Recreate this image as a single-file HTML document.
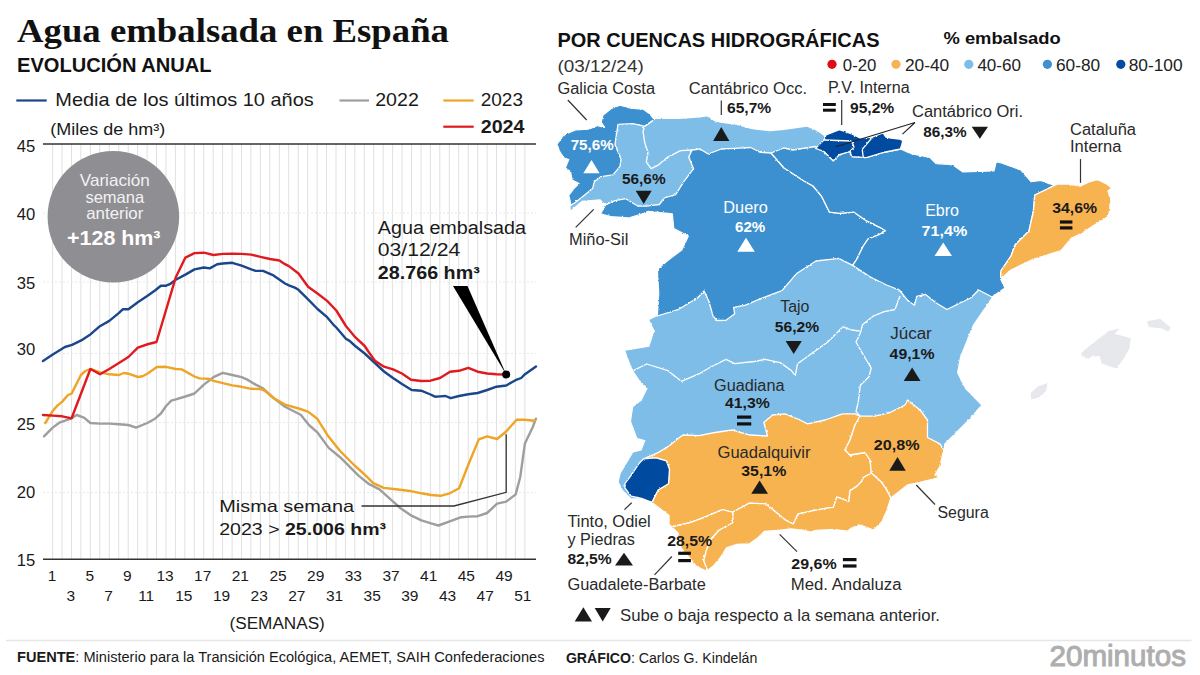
<!DOCTYPE html><html><head><meta charset="utf-8"><title>Agua embalsada en España</title><style>html,body{margin:0;padding:0;background:#fff;width:1200px;height:675px;overflow:hidden}svg{display:block}</style></head><body>
<svg width="1200" height="675" viewBox="0 0 1200 675" font-family='"Liberation Sans", sans-serif'>
<rect width="1200" height="675" fill="#fff"/>
<text x="17" y="42" font-size="34.2" font-weight="bold" fill="#111" textLength="432" lengthAdjust="spacingAndGlyphs" font-family='"Liberation Serif", serif'>Agua embalsada en España</text>
<text x="17" y="71.6" font-size="19.8" font-weight="bold" fill="#111" textLength="194.6" lengthAdjust="spacingAndGlyphs">EVOLUCIÓN ANUAL</text>
<line x1="16.3" y1="100.5" x2="46.7" y2="100.5" stroke="#1a468c" stroke-width="2.2"/>
<text x="55.3" y="106.1" font-size="18.4" fill="#1a1a1a" textLength="258.5" lengthAdjust="spacingAndGlyphs">Media de los últimos 10 años</text>
<line x1="339.5" y1="100.5" x2="369" y2="100.5" stroke="#9e9e9e" stroke-width="2.2"/>
<text x="375.2" y="106.1" font-size="18.4" fill="#1a1a1a" textLength="43.6" lengthAdjust="spacingAndGlyphs">2022</text>
<line x1="443.3" y1="100.5" x2="473.7" y2="100.5" stroke="#eea526" stroke-width="2.2"/>
<text x="480.7" y="106.1" font-size="18.4" fill="#1a1a1a" textLength="42.3" lengthAdjust="spacingAndGlyphs">2023</text>
<line x1="443.3" y1="126.7" x2="473.7" y2="126.7" stroke="#e01b1f" stroke-width="2.2"/>
<text x="480.7" y="132.5" font-size="18.4" font-weight="bold" fill="#1a1a1a" textLength="43.8" lengthAdjust="spacingAndGlyphs">2024</text>
<text x="50.2" y="134.8" font-size="16.2" fill="#1a1a1a" textLength="115" lengthAdjust="spacingAndGlyphs">(Miles de hm³)</text>
<path d="M52.6,144V559M62.0,144V559M71.5,144V559M80.9,144V559M90.4,144V559M99.8,144V559M109.3,144V559M118.7,144V559M128.2,144V559M137.6,144V559M147.1,144V559M156.5,144V559M165.9,144V559M175.4,144V559M184.8,144V559M194.3,144V559M203.7,144V559M213.2,144V559M222.6,144V559M232.1,144V559M241.5,144V559M250.9,144V559M260.4,144V559M269.8,144V559M279.3,144V559M288.7,144V559M298.2,144V559M307.6,144V559M317.1,144V559M326.5,144V559M336.0,144V559M345.4,144V559M354.8,144V559M364.3,144V559M373.7,144V559M383.2,144V559M392.6,144V559M402.1,144V559M411.5,144V559M421.0,144V559M430.4,144V559M439.8,144V559M449.3,144V559M458.7,144V559M468.2,144V559M477.6,144V559M487.1,144V559M496.5,144V559M506.0,144V559M515.4,144V559M524.9,144V559" stroke="#e0e0e0" stroke-width="1" fill="none"/>
<line x1="43" y1="213.0" x2="536" y2="213.0" stroke="#e8e8e8" stroke-width="1" stroke-dasharray="2,2"/>
<line x1="43" y1="282.0" x2="536" y2="282.0" stroke="#e8e8e8" stroke-width="1" stroke-dasharray="2,2"/>
<line x1="43" y1="353.5" x2="536" y2="353.5" stroke="#e8e8e8" stroke-width="1" stroke-dasharray="2,2"/>
<line x1="43" y1="422.5" x2="536" y2="422.5" stroke="#e8e8e8" stroke-width="1" stroke-dasharray="2,2"/>
<line x1="43" y1="492.6" x2="536" y2="492.6" stroke="#e8e8e8" stroke-width="1" stroke-dasharray="2,2"/>
<line x1="43" y1="144" x2="536" y2="144" stroke="#333" stroke-width="1.6"/>
<line x1="43" y1="559.3" x2="536" y2="559.3" stroke="#333" stroke-width="1.6"/>
<text x="35.3" y="151.7" font-size="16.8" fill="#1a1a1a" textLength="18.5" lengthAdjust="spacingAndGlyphs" text-anchor="end">45</text>
<text x="35.3" y="219.6" font-size="16.8" fill="#1a1a1a" textLength="18.5" lengthAdjust="spacingAndGlyphs" text-anchor="end">40</text>
<text x="35.3" y="289.0" font-size="16.8" fill="#1a1a1a" textLength="18.5" lengthAdjust="spacingAndGlyphs" text-anchor="end">35</text>
<text x="35.3" y="355.0" font-size="16.8" fill="#1a1a1a" textLength="18.5" lengthAdjust="spacingAndGlyphs" text-anchor="end">30</text>
<text x="35.3" y="429.8" font-size="16.8" fill="#1a1a1a" textLength="18.5" lengthAdjust="spacingAndGlyphs" text-anchor="end">25</text>
<text x="35.3" y="498.2" font-size="16.8" fill="#1a1a1a" textLength="18.5" lengthAdjust="spacingAndGlyphs" text-anchor="end">20</text>
<text x="35.3" y="565.6" font-size="16.8" fill="#1a1a1a" textLength="18.5" lengthAdjust="spacingAndGlyphs" text-anchor="end">15</text>
<text x="52.0" y="580.75" font-size="15.5" fill="#1a1a1a" text-anchor="middle">1</text>
<text x="70.8" y="600.75" font-size="15.5" fill="#1a1a1a" text-anchor="middle">3</text>
<text x="89.7" y="580.75" font-size="15.5" fill="#1a1a1a" text-anchor="middle">5</text>
<text x="108.5" y="600.75" font-size="15.5" fill="#1a1a1a" text-anchor="middle">7</text>
<text x="127.3" y="580.75" font-size="15.5" fill="#1a1a1a" text-anchor="middle">9</text>
<text x="146.2" y="600.75" font-size="15.5" fill="#1a1a1a" text-anchor="middle">11</text>
<text x="165.0" y="580.75" font-size="15.5" fill="#1a1a1a" text-anchor="middle">13</text>
<text x="183.8" y="600.75" font-size="15.5" fill="#1a1a1a" text-anchor="middle">15</text>
<text x="202.7" y="580.75" font-size="15.5" fill="#1a1a1a" text-anchor="middle">17</text>
<text x="221.5" y="600.75" font-size="15.5" fill="#1a1a1a" text-anchor="middle">19</text>
<text x="240.3" y="580.75" font-size="15.5" fill="#1a1a1a" text-anchor="middle">21</text>
<text x="259.2" y="600.75" font-size="15.5" fill="#1a1a1a" text-anchor="middle">23</text>
<text x="278.0" y="580.75" font-size="15.5" fill="#1a1a1a" text-anchor="middle">25</text>
<text x="296.8" y="600.75" font-size="15.5" fill="#1a1a1a" text-anchor="middle">27</text>
<text x="315.7" y="580.75" font-size="15.5" fill="#1a1a1a" text-anchor="middle">29</text>
<text x="334.5" y="600.75" font-size="15.5" fill="#1a1a1a" text-anchor="middle">31</text>
<text x="353.3" y="580.75" font-size="15.5" fill="#1a1a1a" text-anchor="middle">33</text>
<text x="372.2" y="600.75" font-size="15.5" fill="#1a1a1a" text-anchor="middle">35</text>
<text x="391.0" y="580.75" font-size="15.5" fill="#1a1a1a" text-anchor="middle">37</text>
<text x="409.8" y="600.75" font-size="15.5" fill="#1a1a1a" text-anchor="middle">39</text>
<text x="428.7" y="580.75" font-size="15.5" fill="#1a1a1a" text-anchor="middle">41</text>
<text x="447.5" y="600.75" font-size="15.5" fill="#1a1a1a" text-anchor="middle">43</text>
<text x="466.3" y="580.75" font-size="15.5" fill="#1a1a1a" text-anchor="middle">45</text>
<text x="485.2" y="600.75" font-size="15.5" fill="#1a1a1a" text-anchor="middle">47</text>
<text x="504.0" y="580.75" font-size="15.5" fill="#1a1a1a" text-anchor="middle">49</text>
<text x="522.8" y="600.75" font-size="15.5" fill="#1a1a1a" text-anchor="middle">51</text>
<text x="229.5" y="628.75" font-size="16" fill="#1a1a1a" textLength="95.3" lengthAdjust="spacingAndGlyphs">(SEMANAS)</text>
<circle cx="113.4" cy="216.7" r="65.8" fill="#8f8e92"/>
<text x="114.8" y="185.8" font-size="16.5" fill="#f2f2f2" textLength="70" lengthAdjust="spacingAndGlyphs" text-anchor="middle">Variación</text>
<text x="114.8" y="203" font-size="16.5" fill="#f2f2f2" textLength="58.8" lengthAdjust="spacingAndGlyphs" text-anchor="middle">semana</text>
<text x="114.8" y="219.1" font-size="16.5" fill="#f2f2f2" textLength="57.1" lengthAdjust="spacingAndGlyphs" text-anchor="middle">anterior</text>
<text x="113.8" y="244.8" font-size="21" font-weight="bold" fill="#ffffff" textLength="93.4" lengthAdjust="spacingAndGlyphs" text-anchor="middle">+128 hm³</text>
<path d="M44.0,436.3L52.7,427.6L60.0,422.3L71.6,418.3L76.6,415.0L84.0,417.6L90.4,423.0L100.0,423.6L109.3,423.6L118.9,424.3L128.4,425.0L136.0,427.6L147.3,423.0L155.0,418.7L160.9,413.5L166.1,406.0L171.3,400.6L175.7,399.4L185.4,396.5L194.5,393.5L203.9,384.6L213.5,377.2L222.8,372.8L232.3,375.0L241.6,377.2L246.8,379.4L255.7,384.6L263.0,388.3L273.5,398.0L285.0,406.8L300.7,414.7L309.0,425.0L317.3,432.3L328.7,447.9L340.1,457.2L358.8,475.9L369.2,484.2L379.5,489.3L392.0,500.7L400.3,508.0L410.4,515.1L421.4,520.3L431.1,523.4L438.4,525.5L449.8,521.3L461.2,517.2L468.5,516.6L477.8,516.2L487.1,513.0L497.1,503.7L506.2,501.6L515.7,494.4L520.3,476.7L524.9,443.6L532.8,427.0L535.9,418.7" stroke="#9e9e9e" stroke-width="2.4" fill="none" stroke-linejoin="round" stroke-linecap="round"/>
<path d="M45.3,423.0L52.7,411.0L57.3,405.6L62.3,401.6L68.0,395.0L71.6,393.6L80.9,375.0L85.3,371.0L90.4,369.0L100.0,372.3L109.3,374.3L118.9,375.0L124.0,373.0L128.4,373.7L138.0,377.0L142.6,376.3L147.3,373.7L156.9,367.0L166.1,366.8L175.7,369.0L181.7,369.4L194.5,376.5L199.4,378.4L208.3,378.7L213.5,380.9L222.8,383.1L232.3,385.4L241.6,386.8L251.2,388.8L260.4,389.0L264.6,390.5L273.5,398.0L285.0,404.6L298.7,408.5L308.0,411.6L317.3,418.8L327.7,435.4L340.1,451.0L354.6,465.5L365.0,474.8L373.3,483.1L383.7,487.9L396.1,489.3L412.0,491.3L421.4,493.3L431.1,495.0L440.4,495.8L449.8,493.3L459.1,488.2L468.5,464.3L478.8,439.4L487.1,436.3L497.1,439.0L506.2,431.5L516.6,419.7L524.9,419.7L534.8,420.7" stroke="#eea526" stroke-width="2.4" fill="none" stroke-linejoin="round" stroke-linecap="round"/>
<path d="M43.0,361.0L52.8,354.5L64.9,347.0L72.0,344.9L81.2,340.4L90.7,334.2L99.9,326.2L109.3,320.9L119.0,312.9L122.7,309.3L128.4,309.3L137.8,302.2L147.2,296.0L155.0,290.5L160.9,285.7L166.1,285.7L169.8,284.2L175.7,279.8L185.4,274.6L194.5,269.4L203.9,267.5L209.8,268.4L217.2,264.2L222.8,263.5L232.3,262.8L241.6,265.7L251.2,269.4L255.7,270.9L263.0,270.9L273.5,275.4L285.0,283.5L288.9,285.4L294.8,287.6L298.5,289.8L308.1,299.4L317.5,309.0L327.1,317.2L333.3,324.6L336.3,327.5L345.9,338.7L349.6,340.9L355.2,346.0L364.7,353.5L369.0,357.5L384.0,371.5L393.0,378.0L402.0,384.0L411.7,390.0L421.2,390.7L430.5,394.5L435.0,396.7L440.0,396.4L445.5,396.0L450.7,398.2L459.0,396.0L468.3,394.2L477.7,393.0L487.2,390.0L496.5,386.7L506.2,385.5L515.5,380.2L521.2,378.0L525.0,374.2L536.0,366.5" stroke="#1a468c" stroke-width="2.4" fill="none" stroke-linejoin="round" stroke-linecap="round"/>
<path d="M43.0,415.0L52.7,415.6L62.3,416.3L71.6,418.3L90.4,369.0L100.0,374.3L109.3,369.0L118.9,363.0L128.4,357.0L137.8,347.6L148.4,344.0L156.5,342.0L175.7,277.6L185.4,257.6L194.5,253.1L203.9,252.7L213.5,255.0L222.8,253.9L232.3,253.6L241.6,253.9L251.2,254.6L260.4,256.8L270.0,259.0L279.4,260.5L285.0,264.2L288.9,266.1L298.5,273.5L308.1,286.8L317.5,293.5L327.1,300.9L336.3,310.5L345.9,326.0L355.2,337.2L364.7,346.0L369.0,352.5L375.0,360.7L384.0,366.7L393.0,369.3L402.0,373.5L411.0,379.8L421.2,381.0L430.5,380.7L440.0,378.0L450.0,371.7L459.0,370.8L468.3,367.8L477.7,371.7L487.2,373.5L496.5,374.2L506.2,374.5" stroke="#e01b1f" stroke-width="2.4" fill="none" stroke-linejoin="round" stroke-linecap="round"/>
<polygon points="453,286 467.5,286 506.2,374.5" fill="#000"/>
<circle cx="506.2" cy="374.5" r="4" fill="#000"/>
<text x="377.8" y="234.2" font-size="18" fill="#1a1a1a" textLength="148.2" lengthAdjust="spacingAndGlyphs">Agua embalsada</text>
<text x="377.8" y="255.5" font-size="18" fill="#1a1a1a" textLength="82.5" lengthAdjust="spacingAndGlyphs">03/12/24</text>
<text x="377.8" y="279.4" font-size="18" font-weight="bold" fill="#1a1a1a" textLength="102" lengthAdjust="spacingAndGlyphs">28.766 hm³</text>
<polyline points="361.5,506 454,506 506.2,492.3 506.2,434.2" stroke="#333" stroke-width="1.3" fill="none"/>
<text x="219.25" y="511.5" font-size="17" fill="#1a1a1a" textLength="134.8" lengthAdjust="spacingAndGlyphs">Misma semana</text>
<text x="219.25" y="535" font-size="17" fill="#1a1a1a" textLength="166.8" lengthAdjust="spacingAndGlyphs">2023 &gt; <tspan font-weight="bold">25.006 hm³</tspan></text>
<defs><filter id="rough" x="-2%" y="-2%" width="104%" height="104%"><feTurbulence type="fractalNoise" baseFrequency="0.45" numOctaves="2" seed="3" result="n"/><feDisplacementMap in="SourceGraphic" in2="n" scale="2.2" xChannelSelector="R" yChannelSelector="G"/></filter></defs>
<g filter="url(#rough)">
<polygon points="1081.1,353.0 1090.1,345.6 1098.2,339.1 1108.8,331.0 1119.4,328.5 1114.5,334.2 1119.4,335.0 1130.8,338.3 1129.2,348.9 1122.7,360.3 1116.2,368.5 1101.5,363.6 1099.9,356.2 1091.7,356.2 1088.5,358.7 1081.9,356.2" fill="#e7e8eb"/>
<polygon points="1147.1,321.2 1160.2,318.7 1170.8,327.7 1168.3,331.8 1161.8,328.5 1148.8,326.9" fill="#e7e8eb"/>
<polygon points="1030.6,392.9 1037.9,386.4 1047.7,383.1 1046.1,391.3 1037.9,397.8 1031.4,399.4" fill="#e7e8eb"/>
<polygon points="556.8,144.3 563.6,134.9 575.5,129.8 589.2,129.0 597.7,125.5 604.5,127.3 601.1,122.1 602.8,115.3 611.3,108.5 620.0,105.1 630.0,108.0 643.0,109.0 650.0,114.0 654.0,119.0 679.0,119.0 700.0,117.5 707.0,116.5 715.0,121.4 722.0,123.0 736.0,124.7 753.0,129.6 770.0,131.2 784.0,130.0 807.0,126.7 815.0,130.0 820.0,133.0 824.0,136.0 826.0,135.0 839.4,129.7 851.9,133.9 860.0,138.0 872.6,137.0 883.0,132.8 886.0,137.0 891.0,138.0 899.6,139.0 902.8,140.7 900.7,149.0 911.0,153.7 929.8,157.3 936.0,163.6 952.6,164.6 963.0,171.9 994.0,170.8 996.2,161.5 1000.0,162.5 1021.0,170.0 1031.0,181.7 1041.0,180.4 1053.7,185.4 1057.0,184.2 1068.5,184.2 1080.5,186.1 1087.8,182.3 1097.4,179.4 1107.0,184.2 1111.9,188.0 1108.0,191.0 1111.0,200.6 1109.0,214.0 1106.0,218.0 1093.6,225.6 1082.0,233.3 1071.7,238.0 1061.0,250.6 1032.6,259.5 1011.0,270.0 1000.7,279.0 1005.0,288.0 992.0,297.0 973.0,324.7 960.0,356.7 957.0,372.7 965.0,388.7 981.0,405.0 970.0,418.0 960.0,428.0 944.0,444.0 943.8,450.0 940.0,466.2 935.0,475.0 940.0,477.5 920.0,482.5 907.5,485.0 890.9,498.0 886.7,511.0 882.0,521.7 873.7,530.0 860.6,525.2 852.3,527.6 847.6,531.1 836.9,530.0 830.0,529.6 815.9,530.3 810.9,532.1 803.3,530.3 790.7,529.0 778.1,530.3 764.3,531.5 758.0,537.8 749.2,544.1 737.8,544.1 726.5,547.9 720.2,558.0 713.9,565.5 707.6,570.5 705.0,570.5 696.0,566.0 681.0,548.0 678.0,533.0 669.0,524.5 669.0,515.6 651.9,502.4 641.5,498.3 631.1,498.3 627.0,494.1 622.8,490.0 618.7,481.7 620.7,473.4 627.0,463.0 633.2,452.6 641.5,450.5 645.6,440.2 637.3,438.1 631.1,421.5 633.2,407.0 641.5,400.7 647.7,388.3 639.4,380.0 633.3,370.7 630.7,365.3 625.3,350.7 649.3,346.7 654.7,330.7 649.3,320.0 657.3,316.0 658.7,293.3 657.3,269.3 668.3,260.0 681.7,250.0 688.3,236.0 673.7,228.7 672.3,214.0 648.3,211.3 641.7,214.0 628.3,218.0 611.0,216.7 600.3,214.0 605.7,204.7 600.3,199.3 581.7,200.7 571.0,210.0 570.4,205.6 570.4,202.2 568.7,195.4 573.8,188.6 579.0,183.5 572.1,180.1 570.4,171.5 565.3,168.1 568.7,159.6 563.6,157.9 559.4,151.1" fill="#7ebde8"/>
<polygon points="654.4,119.5 644.7,126.3 633.0,123.7 618.0,124.4 615.0,144.4 621.0,159.3 620.0,166.4 613.0,174.9 601.1,176.6 594.3,181.8 592.6,188.6 584.1,195.4 575.5,202.2 570.4,205.6 570.4,202.2 568.7,195.4 573.8,188.6 579.0,183.5 572.1,180.1 570.4,171.5 565.3,168.1 568.7,159.6 563.6,157.9 559.4,151.1 556.8,144.3 563.6,134.9 575.5,129.8 589.2,129.0 597.7,125.5 604.5,127.3 601.1,122.1 602.8,115.3 611.3,108.5 620.0,105.1 630.0,108.0 643.0,109.0 650.0,114.0" fill="#3e90cf" stroke="#fff" stroke-width="1.3" stroke-linejoin="round"/>
<polygon points="600.3,214.0 605.7,204.7 615.0,200.7 625.7,198.7 637.7,206.0 646.3,206.2 659.3,204.5 664.2,198.0 675.6,194.7 683.8,181.7 693.6,168.7 688.7,157.3 692.0,150.0 700.0,149.0 708.2,154.0 721.3,149.0 734.3,148.3 750.6,147.5 760.4,152.4 771.0,153.0 784.0,168.0 804.0,181.0 813.0,186.0 821.3,195.8 829.5,212.2 840.0,213.3 854.0,212.2 865.6,220.3 879.7,227.3 885.5,230.8 879.7,234.3 868.0,239.0 863.3,246.0 856.3,260.0 852.7,265.4 838.6,258.3 816.0,261.0 796.3,273.8 782.0,290.7 760.7,298.7 745.5,305.2 733.6,307.3 734.7,313.8 726.0,320.3 717.0,320.5 713.0,316.0 708.7,300.8 704.0,291.0 697.7,297.7 678.7,309.3 657.3,316.0 658.7,293.3 657.3,269.3 668.3,260.0 681.7,250.0 688.3,236.0 673.7,228.7 672.3,214.0 648.3,211.3 641.7,214.0 628.3,218.0 611.0,216.7" fill="#3e90cf" stroke="#fff" stroke-width="1.3" stroke-linejoin="round"/>
<polygon points="771.0,153.0 784.0,148.0 793.0,150.0 815.6,146.5 823.9,151.5 833.2,160.8 839.4,154.6 849.8,151.5 851.9,156.7 866.4,157.7 883.0,152.5 900.7,149.0 911.0,153.7 929.8,157.3 936.0,163.6 952.6,164.6 963.0,171.9 994.0,170.8 996.2,161.5 1000.0,162.5 1021.0,170.0 1031.0,181.7 1041.0,180.4 1053.7,185.4 1057.0,184.2 1045.4,190.0 1034.8,195.0 1033.5,210.6 1029.0,231.0 1015.0,245.0 1011.0,256.0 1000.8,271.0 1000.7,279.0 1005.0,288.0 992.0,297.0 978.7,290.0 970.7,298.0 960.0,303.0 947.0,309.5 936.2,303.0 925.3,294.3 916.7,296.5 914.5,305.2 908.0,300.8 899.3,290.0 886.5,285.0 869.6,276.6 852.7,265.4 856.3,260.0 863.3,246.0 868.0,239.0 879.7,234.3 885.5,230.8 879.7,227.3 865.6,220.3 854.0,212.2 840.0,213.3 829.5,212.2 821.3,195.8 813.0,186.0 804.0,181.0 784.0,168.0" fill="#3e90cf" stroke="#fff" stroke-width="1.3" stroke-linejoin="round"/>
<polygon points="815.6,148.4 823.9,140.0 826.0,135.0 839.4,129.7 851.9,133.9 860.0,138.0 872.6,137.0 883.0,132.8 886.0,137.0 891.0,138.0 899.6,139.0 902.8,140.7 900.7,149.0 883.0,152.5 866.4,157.7 851.9,156.7 849.8,151.5 839.4,154.6 833.2,160.8 823.9,151.5" fill="#054b9f" stroke="#fff" stroke-width="1.3" stroke-linejoin="round"/>
<polygon points="1057.0,184.2 1068.5,184.2 1080.5,186.1 1087.8,182.3 1097.4,179.4 1107.0,184.2 1111.9,188.0 1108.0,191.0 1111.0,200.6 1109.0,214.0 1106.0,218.0 1093.6,225.6 1082.0,233.3 1071.7,238.0 1061.0,250.6 1032.6,259.5 1011.0,270.0 1000.7,279.0 1000.8,271.0 1011.0,256.0 1015.0,245.0 1029.0,231.0 1033.5,210.6 1034.8,195.0 1045.4,190.0" fill="#f8b351" stroke="#fff" stroke-width="1.3" stroke-linejoin="round"/>
<polygon points="643.6,458.8 658.1,452.6 668.5,446.4 678.8,438.1 683.0,435.0 699.0,435.6 715.0,432.5 732.5,430.0 750.0,435.0 767.5,436.0 763.8,422.5 772.5,415.0 785.0,413.8 800.0,420.0 807.5,423.8 825.0,420.0 842.5,413.8 855.0,413.8 860.0,416.2 855.0,425.0 850.0,440.0 845.0,450.0 850.0,455.0 865.0,452.5 870.1,460.0 871.3,473.0 863.0,477.8 861.8,481.3 857.1,486.1 850.0,490.8 848.8,501.5 836.9,496.8 833.4,507.4 830.0,507.6 815.9,510.1 798.3,513.9 793.2,524.0 785.7,520.2 778.1,513.9 771.8,508.8 765.5,503.8 749.2,503.2 733.0,512.0 729.0,511.4 722.7,509.5 715.2,512.6 703.8,517.7 690.0,522.7 669.0,527.5 669.0,524.5 669.0,515.6 651.9,502.4 658.1,490.0 668.5,483.7 669.5,469.2 666.4,460.9 656.0,457.8" fill="#f8b351" stroke="#fff" stroke-width="1.3" stroke-linejoin="round"/>
<polygon points="669.0,527.5 690.0,522.7 703.8,517.7 715.2,512.6 722.7,509.5 729.0,511.4 733.0,512.0 732.8,522.7 719.0,530.3 710.1,540.3 706.4,550.4 703.8,560.5 707.6,570.5 705.0,570.5 696.0,566.0 681.0,548.0 678.0,533.0 669.0,524.5" fill="#f8b351" stroke="#fff" stroke-width="1.3" stroke-linejoin="round"/>
<polygon points="733.0,512.0 749.2,503.2 765.5,503.8 771.8,508.8 778.1,513.9 785.7,520.2 793.2,524.0 798.3,513.9 815.9,510.1 830.0,507.6 833.4,507.4 836.9,496.8 848.8,501.5 850.0,490.8 857.1,486.1 861.8,481.3 863.0,477.8 871.3,473.0 880.8,481.3 886.7,489.6 890.9,498.0 886.7,511.0 882.0,521.7 873.7,530.0 860.6,525.2 852.3,527.6 847.6,531.1 836.9,530.0 830.0,529.6 815.9,530.3 810.9,532.1 803.3,530.3 790.7,529.0 778.1,530.3 764.3,531.5 758.0,537.8 749.2,544.1 737.8,544.1 726.5,547.9 720.2,558.0 713.9,565.5 707.6,570.5 703.8,560.5 706.4,550.4 710.1,540.3 719.0,530.3 732.8,522.7" fill="#f8b351" stroke="#fff" stroke-width="1.3" stroke-linejoin="round"/>
<polygon points="860.0,416.2 875.0,416.2 890.0,412.5 905.0,405.0 907.5,400.0 920.0,410.0 927.5,420.0 927.5,437.5 940.0,443.8 943.8,450.0 940.0,466.2 935.0,475.0 940.0,477.5 920.0,482.5 907.5,485.0 890.9,498.0 886.7,489.6 880.8,481.3 871.3,473.0 870.1,460.0 865.0,452.5 850.0,455.0 845.0,450.0 850.0,440.0 855.0,425.0" fill="#f8b351" stroke="#fff" stroke-width="1.3" stroke-linejoin="round"/>
<polygon points="656.0,457.8 666.4,460.9 669.5,469.2 668.5,483.7 658.1,490.0 651.9,502.4 641.5,498.3 631.1,496.2 624.9,487.9 624.9,483.7 631.1,475.4 639.4,463.0 643.6,458.8" fill="#054b9f" stroke="#fff" stroke-width="1.3" stroke-linejoin="round"/>
<polyline points="654.4,119.5 644.7,126.3 643.0,131.2 644.7,142.6 648.0,152.4 646.3,162.2 651.2,168.7 657.7,165.4 667.5,157.3 680.5,150.7 692.0,150.0" fill="none" stroke="#fff" stroke-width="1.3" stroke-linejoin="round"/>
<polyline points="633.3,370.7 646.7,364.0 668.0,370.7 681.3,381.3 700.0,373.3 710.8,367.0 726.0,359.3 734.7,363.7 754.2,361.5 765.0,359.3 780.2,362.6 791.0,370.2 795.3,375.6 797.5,363.7 812.7,352.8 827.8,342.0 843.0,326.8 851.7,330.0 860.3,331.2" fill="none" stroke="#fff" stroke-width="1.3" stroke-linejoin="round"/>
<polyline points="900.0,296.0 895.0,309.5 884.2,311.7 873.3,316.0 862.5,324.7 860.3,333.3" fill="none" stroke="#fff" stroke-width="1.3" stroke-linejoin="round"/>
<polyline points="860.3,333.3 856.0,342.0 864.7,357.2 871.2,368.0 869.0,376.7 860.3,385.3 858.2,402.7 856.0,411.3 860.0,416.2" fill="none" stroke="#fff" stroke-width="1.3" stroke-linejoin="round"/>
<polyline points="823.9,140.0 851.9,141.0 854.0,147.3 849.8,151.5" fill="none" stroke="#fff" stroke-width="1.3" stroke-linejoin="round"/>
<polyline points="872.6,137.0 862.2,149.4 863.3,157.7" fill="none" stroke="#fff" stroke-width="1.3" stroke-linejoin="round"/>
</g>
<text x="557.5" y="47" font-size="19.9" font-weight="bold" fill="#111" textLength="322" lengthAdjust="spacingAndGlyphs">POR CUENCAS HIDROGRÁFICAS</text>
<text x="943.5" y="43.75" font-size="17.4" font-weight="bold" fill="#111" textLength="117.2" lengthAdjust="spacingAndGlyphs">% embalsado</text>
<text x="557.5" y="71.5" font-size="17" fill="#333" textLength="86.2" lengthAdjust="spacingAndGlyphs">(03/12/24)</text>
<circle cx="832" cy="64.3" r="4.6" fill="#e30b17"/>
<text x="842.8" y="70.7" font-size="17.4" fill="#222" textLength="33.6" lengthAdjust="spacingAndGlyphs">0-20</text>
<circle cx="896" cy="64.3" r="4.6" fill="#f6b458"/>
<text x="904.9" y="70.7" font-size="17.4" fill="#222" textLength="44.3" lengthAdjust="spacingAndGlyphs">20-40</text>
<circle cx="968.8" cy="64.3" r="4.6" fill="#7ebde8"/>
<text x="977.4" y="70.7" font-size="17.4" fill="#222" textLength="43.6" lengthAdjust="spacingAndGlyphs">40-60</text>
<circle cx="1047.4" cy="64.3" r="4.6" fill="#3e90cf"/>
<text x="1056" y="70.7" font-size="17.4" fill="#222" textLength="44.2" lengthAdjust="spacingAndGlyphs">60-80</text>
<circle cx="1120.8" cy="64.3" r="4.6" fill="#054b9f"/>
<text x="1128.7" y="70.7" font-size="17.4" fill="#222" textLength="53.9" lengthAdjust="spacingAndGlyphs">80-100</text>
<text x="557.5" y="93.75" font-size="15.6" fill="#2a2a2a" textLength="97.5" lengthAdjust="spacingAndGlyphs">Galicia Costa</text>
<line x1="567.8" y1="100" x2="586.7" y2="120" stroke="#333" stroke-width="1.2"/>
<text x="570.7" y="150.4" font-size="14.6" font-weight="bold" fill="#fff" textLength="43" lengthAdjust="spacingAndGlyphs">75,6%</text>
<polygon points="583.3,173.3 591.5,160 599.6,173.3" fill="#fff"/>
<text x="621.9" y="184.1" font-size="14.6" font-weight="bold" fill="#1a1a1a" textLength="43.7" lengthAdjust="spacingAndGlyphs">56,6%</text>
<polygon points="635.7,190.7 651.7,190.7 643.7,204" fill="#1a1a1a"/>
<text x="569" y="245.3" font-size="15.6" fill="#2a2a2a" textLength="59.3" lengthAdjust="spacingAndGlyphs">Miño-Sil</text>
<line x1="575.7" y1="227.3" x2="593.7" y2="209.3" stroke="#333" stroke-width="1.2"/>
<text x="688.75" y="93.75" font-size="15.6" fill="#2a2a2a" textLength="118.25" lengthAdjust="spacingAndGlyphs">Cantábrico Occ.</text>
<line x1="721.3" y1="100.5" x2="721.3" y2="115" stroke="#333" stroke-width="1.2"/>
<text x="727" y="113" font-size="14.6" font-weight="bold" fill="#1a1a1a" textLength="44.25" lengthAdjust="spacingAndGlyphs">65,7%</text>
<polygon points="713.1,141 721.25,127.1 729.4,141" fill="#1a1a1a"/>
<text x="828" y="93.3" font-size="15.6" fill="#2a2a2a" textLength="81.7" lengthAdjust="spacingAndGlyphs">P.V. Interna</text>
<rect x="823" y="103" width="12.8" height="3" fill="#111"/><rect x="823" y="108.7" width="12.8" height="3" fill="#111"/>
<line x1="841.7" y1="100" x2="841.7" y2="125" stroke="#333" stroke-width="1.2"/>
<text x="850" y="113.3" font-size="14.6" font-weight="bold" fill="#1a1a1a" textLength="44.2" lengthAdjust="spacingAndGlyphs">95,2%</text>
<text x="912" y="117" font-size="15.6" fill="#2a2a2a" textLength="111" lengthAdjust="spacingAndGlyphs">Cantábrico Ori.</text>
<text x="923.3" y="137.2" font-size="14.6" font-weight="bold" fill="#1a1a1a" textLength="43.4" lengthAdjust="spacingAndGlyphs">86,3%</text>
<polygon points="971.7,126.7 988,126.7 979.85,138.7" fill="#1a1a1a"/>
<polyline points="835.8,146.7 915,122.5 902.5,134.2" fill="none" stroke="#222" stroke-width="1.1"/>
<text x="1070" y="134.7" font-size="15.6" fill="#2a2a2a" textLength="66" lengthAdjust="spacingAndGlyphs">Cataluña</text>
<text x="1070" y="152" font-size="15.6" fill="#2a2a2a" textLength="51.5" lengthAdjust="spacingAndGlyphs">Interna</text>
<line x1="1080.5" y1="159.1" x2="1080.5" y2="182.8" stroke="#333" stroke-width="1.2"/>
<text x="1052.2" y="213.1" font-size="14.6" font-weight="bold" fill="#1a1a1a" textLength="44.8" lengthAdjust="spacingAndGlyphs">34,6%</text>
<rect x="1059.9" y="220.4" width="12.5" height="3.2" fill="#111"/><rect x="1059.9" y="226.3" width="12.5" height="3.2" fill="#111"/>
<text x="723.3" y="212.6" font-size="15.8" fill="#fff" textLength="44.4" lengthAdjust="spacingAndGlyphs">Duero</text>
<text x="735" y="231.5" font-size="14.6" font-weight="bold" fill="#fff" textLength="30.3" lengthAdjust="spacingAndGlyphs">62%</text>
<polygon points="737.3,251.8 746,237.8 754.8,251.8" fill="#fff"/>
<text x="925.2" y="215.7" font-size="15.8" fill="#fff" textLength="33.8" lengthAdjust="spacingAndGlyphs">Ebro</text>
<text x="921.6" y="236" font-size="14.6" font-weight="bold" fill="#fff" textLength="45.6" lengthAdjust="spacingAndGlyphs">71,4%</text>
<polygon points="934.5,256 943.25,242.5 952,256" fill="#fff"/>
<text x="780.2" y="311.7" font-size="15.8" fill="#2a2a2a" textLength="29.2" lengthAdjust="spacingAndGlyphs">Tajo</text>
<text x="774.8" y="332.3" font-size="14.6" font-weight="bold" fill="#1a1a1a" textLength="44.4" lengthAdjust="spacingAndGlyphs">56,2%</text>
<polygon points="785.6,341 801.8,341 793.7,354" fill="#1a1a1a"/>
<text x="890.2" y="338.8" font-size="15.8" fill="#2a2a2a" textLength="41.6" lengthAdjust="spacingAndGlyphs">Júcar</text>
<text x="889.6" y="359.3" font-size="14.6" font-weight="bold" fill="#1a1a1a" textLength="44.9" lengthAdjust="spacingAndGlyphs">49,1%</text>
<polygon points="903.7,381 912.15,367.4 920.6,381" fill="#1a1a1a"/>
<text x="714" y="391.4" font-size="15.8" fill="#2a2a2a" textLength="70.5" lengthAdjust="spacingAndGlyphs">Guadiana</text>
<text x="725" y="408.1" font-size="14.6" font-weight="bold" fill="#1a1a1a" textLength="44.8" lengthAdjust="spacingAndGlyphs">41,3%</text>
<rect x="737" y="415.5" width="14.25" height="3.2" fill="#111"/><rect x="737" y="422.3" width="14.25" height="3.2" fill="#111"/>
<text x="717.5" y="457.5" font-size="15.8" fill="#2a2a2a" textLength="93" lengthAdjust="spacingAndGlyphs">Guadalquivir</text>
<text x="741.25" y="475.5" font-size="14.6" font-weight="bold" fill="#1a1a1a" textLength="45" lengthAdjust="spacingAndGlyphs">35,1%</text>
<polygon points="751.25,493.75 759.6,480.5 768,493.75" fill="#1a1a1a"/>
<text x="873.75" y="449.5" font-size="14.6" font-weight="bold" fill="#1a1a1a" textLength="45.75" lengthAdjust="spacingAndGlyphs">20,8%</text>
<polygon points="889.25,470.75 897.5,457 905.75,470.75" fill="#1a1a1a"/>
<text x="937.5" y="517.5" font-size="15.8" fill="#2a2a2a" textLength="51.25" lengthAdjust="spacingAndGlyphs">Segura</text>
<line x1="916.25" y1="485" x2="935" y2="504.5" stroke="#333" stroke-width="1.2"/>
<text x="567.4" y="527.4" font-size="15.8" fill="#2a2a2a" textLength="83.3" lengthAdjust="spacingAndGlyphs">Tinto, Odiel</text>
<text x="567.4" y="544.5" font-size="15.8" fill="#2a2a2a" textLength="67.5" lengthAdjust="spacingAndGlyphs">y Piedras</text>
<text x="567.4" y="564.4" font-size="14.6" font-weight="bold" fill="#1a1a1a" textLength="44.3" lengthAdjust="spacingAndGlyphs">82,5%</text>
<polygon points="615,565.4 624,552.7 633,565.4" fill="#1a1a1a"/>
<line x1="631.7" y1="502.7" x2="624.4" y2="509.6" stroke="#333" stroke-width="1.2"/>
<text x="667.2" y="546.4" font-size="14.6" font-weight="bold" fill="#1a1a1a" textLength="44.9" lengthAdjust="spacingAndGlyphs">28,5%</text>
<rect x="678.2" y="551.7" width="12.7" height="3.2" fill="#111"/><rect x="678.2" y="559" width="12.7" height="3.2" fill="#111"/>
<line x1="671.9" y1="556.5" x2="654.5" y2="574.9" stroke="#333" stroke-width="1.2"/>
<text x="567.4" y="589.7" font-size="15.8" fill="#2a2a2a" textLength="138.4" lengthAdjust="spacingAndGlyphs">Guadalete-Barbate</text>
<text x="791.3" y="568.5" font-size="14.6" font-weight="bold" fill="#1a1a1a" textLength="45.3" lengthAdjust="spacingAndGlyphs">29,6%</text>
<rect x="842.9" y="558" width="13.6" height="3.2" fill="#111"/><rect x="842.9" y="564.4" width="13.6" height="3.2" fill="#111"/>
<line x1="779.6" y1="534.3" x2="797" y2="551.7" stroke="#333" stroke-width="1.2"/>
<text x="790.7" y="589.7" font-size="15.8" fill="#2a2a2a" textLength="110.8" lengthAdjust="spacingAndGlyphs">Med. Andaluza</text>
<polygon points="574.7,621.5 583.35,607.3 592,621.5" fill="#1a1a1a"/>
<polygon points="594.7,608 610.7,608 602.7,621.5" fill="#1a1a1a"/>
<text x="620" y="620.7" font-size="15.7" fill="#2a2a2a" textLength="320" lengthAdjust="spacingAndGlyphs">Sube o baja respecto a la semana anterior.</text>
<line x1="6" y1="640.6" x2="1191.5" y2="640.6" stroke="#e6e6e6" stroke-width="1.5"/>
<text x="17" y="662" font-size="15.2" fill="#1a1a1a" textLength="527.5" lengthAdjust="spacingAndGlyphs"><tspan font-weight="bold">FUENTE</tspan>: Ministerio para la Transición Ecológica, AEMET, SAIH Confederaciones</text>
<text x="565.9" y="662.5" font-size="15.2" fill="#1a1a1a" textLength="191.4" lengthAdjust="spacingAndGlyphs"><tspan font-weight="bold">GRÁFICO</tspan>: Carlos G. Kindelán</text>
<text x="1049.5" y="666" font-size="30" fill="#aeaeae" stroke="#aeaeae" stroke-width="1" textLength="136.5" lengthAdjust="spacingAndGlyphs">20minutos</text>
</svg></body></html>
